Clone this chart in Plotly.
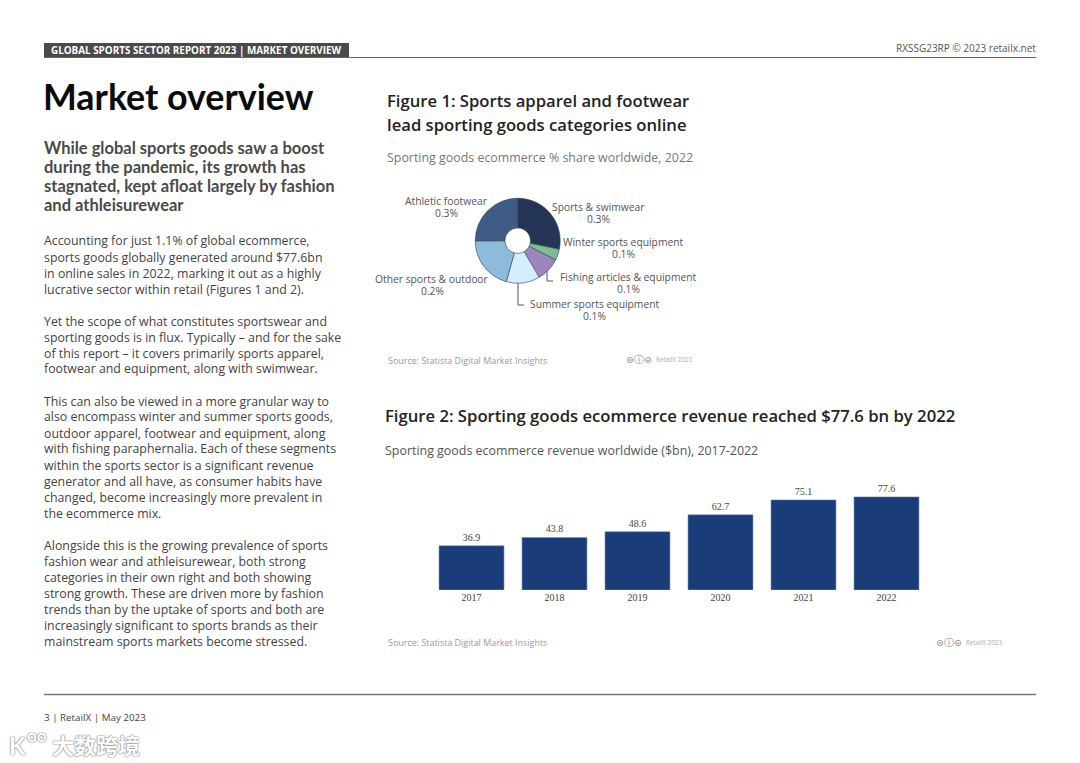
import plotly.graph_objects as go

W, H = 1080, 763

# ---- data ----
pie_categories = ["Sports & swimwear", "Winter sports equipment", "Fishing articles & equipment",
                  "Summer sports equipment", "Other sports & outdoor", "Athletic footwear"]
pie_values = [0.31, 0.046, 0.10, 0.14, 0.226, 0.275]
pie_value_labels = ["0.3%", "0.1%", "0.1%", "0.1%", "0.2%", "0.3%"]
pie_colors = ["#243556", "#7dbd8e", "#9c86bd", "#d6eefb", "#8dbbd9", "#3f5a85"]

years = ["2017", "2018", "2019", "2020", "2021", "2022"]
revenue = [36.9, 43.8, 48.6, 62.7, 75.1, 77.6]

heading_lines = ["While global sports goods saw a boost", "during the pandemic, its growth has",
                 "stagnated, kept afloat largely by fashion", "and athleisurewear"]
body_lines = [
    (241, "Accounting for just 1.1% of global ecommerce,"),
    (257, "sports goods globally generated around $77.6bn"),
    (273, "in online sales in 2022, marking it out as a highly"),
    (289, "lucrative sector within retail (Figures 1 and 2)."),
    (321, "Yet the scope of what constitutes sportswear and"),
    (337, "sporting goods is in flux. Typically – and for the sake"),
    (353, "of this report – it covers primarily sports apparel,"),
    (369, "footwear and equipment, along with swimwear."),
    (401, "This can also be viewed in a more granular way to"),
    (417, "also encompass winter and summer sports goods,"),
    (433, "outdoor apparel, footwear and equipment, along"),
    (449, "with fishing paraphernalia. Each of these segments"),
    (465, "within the sports sector is a significant revenue"),
    (481, "generator and all have, as consumer habits have"),
    (497, "changed, become increasingly more prevalent in"),
    (513, "the ecommerce mix."),
    (545, "Alongside this is the growing prevalence of sports"),
    (561, "fashion wear and athleisurewear, both strong"),
    (577, "categories in their own right and both showing"),
    (593, "strong growth. These are driven more by fashion"),
    (609, "trends than by the uptake of sports and both are"),
    (625, "increasingly significant to sports brands as their"),
    (641, "mainstream sports markets become stressed."),
]

pie_label_pos = [(598, 207), (623, 242), (628, 277), (594, 304), (432, 279), (446.5, 201)]

# ---- helpers ----
def px(x): return x / W
def py(y): return 1 - y / H

OS = "Open Sans"
annotations = []
def text(x, y, s, size=12, color="#444", family=OS, weight=400, anchor="left", shadow=None):
    f = dict(size=size, color=color, family=family, weight=weight)
    if shadow:
        f["shadow"] = shadow
    annotations.append(dict(x=px(x), y=py(y), xref="paper", yref="paper", text=s, showarrow=False,
                            xanchor=anchor, yanchor="middle", font=f, borderpad=0, borderwidth=0))

# header
text(51, 50, "GLOBAL SPORTS SECTOR REPORT 2023 | MARKET OVERVIEW", 9.9, "#ffffff", weight=700)
text(1036, 48, "RXSSG23RP © 2023 retailx.net", 10, "#555", anchor="right")
text(43, 96.5, "Market overview", 35.8, "#0a0a0a", "Lato", 700)
for i, s in enumerate(heading_lines):
    text(43.5, 148 + i * 19, s, 16.5, "#4a4a4a", "Lato", 700)
for y, s in body_lines:
    text(44, y, s, 12.33, "#444")

# figure 1
text(387, 100.5, "Figure 1: Sports apparel and footwear", 16.65, "#222", weight=600)
text(387, 124.5, "lead sporting goods categories online", 16.65, "#222", weight=600)
text(387, 157.5, "Sporting goods ecommerce % share worldwide, 2022", 12.42, "#777")
for (x, y), c, v in zip(pie_label_pos, pie_categories, pie_value_labels):
    text(x, y, c, 10.3, "#555", anchor="center")
    text(x, y + 12, v, 10.3, "#555", anchor="center")
text(388, 360.5, "Source: Statista Digital Market Insights", 8.95, "#999")
text(626, 359.5, "⊜ⓘ⊝", 9.5, "#888", "DejaVu Sans")
text(656, 359.5, "RetailX 2023", 6.3, "#aaa")

# figure 2
text(385, 415.5, "Figure 2: Sporting goods ecommerce revenue reached $77.6 bn by 2022", 16.67, "#222", weight=600)
text(385, 450.5, "Sporting goods ecommerce revenue worldwide ($bn), 2017-2022", 12.43, "#555")
text(388, 642.5, "Source: Statista Digital Market Insights", 8.95, "#999")
text(936, 642, "⊜ⓘ⊝", 9.5, "#888", "DejaVu Sans")
text(966, 642, "RetailX 2023", 6.3, "#aaa")

# footer and watermark
text(44, 717, "3 | RetailX | May 2023", 9.8, "#444")
wm = "0 0 2px #777, 0 0 1px #777"
text(9, 745, "K", 24, "#ffffff", "Lato", 700, shadow=wm)
text(27, 735, "oo", 17, "#ffffff", "Lato", 700, shadow=wm)
text(52, 744, "大数跨境", 22, "#ffffff", "Noto Sans CJK SC", 700, shadow=wm)

# page furniture
line = lambda x0, y0, x1, y1, c, w: dict(type="line", xref="paper", yref="paper", x0=px(x0), y0=py(y0),
                                         x1=px(x1), y1=py(y1), line=dict(color=c, width=w))
shapes = [
    line(44, 57.5, 1036, 57.5, "#666", 1.2),
    dict(type="rect", xref="paper", yref="paper", x0=px(44), x1=px(349), y0=py(58), y1=py(43),
         fillcolor="#4a4a4a", line=dict(width=0), layer="below"),
    line(44, 694.5, 1036, 694.5, "#777", 1.5),
    line(547, 271, 547, 281, "#555", 1), line(547, 281, 553, 281, "#555", 1),
    line(518, 283, 518, 305, "#555", 1), line(518, 305, 524, 305, "#555", 1),
]

fig = go.Figure()
cx, cy, r = 517.7, 240.7, 42.5
fig.add_trace(go.Pie(labels=pie_categories, values=pie_values, sort=False, direction="clockwise",
                     rotation=0, hole=0.3, textinfo="none", showlegend=False,
                     domain=dict(x=[px(cx - r), px(cx + r)], y=[py(cy + r), py(cy - r)]),
                     marker=dict(colors=pie_colors, line=dict(color="#2f4060", width=0.6))))
fig.add_trace(go.Bar(x=years, y=revenue, marker=dict(color="#1a3c78", line=dict(color="#7d93b8", width=0.6)),
                     text=[f"{v:.1f}" for v in revenue], textposition="outside", cliponaxis=False,
                     textfont=dict(family="Liberation Serif", size=10, color="#444"), showlegend=False))

fig.update_layout(
    width=W, height=H, margin=dict(l=0, r=0, t=0, b=0), autosize=False,
    paper_bgcolor="#ffffff", plot_bgcolor="#ffffff", bargap=0.217,
    annotations=annotations, shapes=shapes,
    xaxis=dict(domain=[px(430), px(928)], type="category", showgrid=False, zeroline=False, showline=False,
               ticks="", tickfont=dict(family="Liberation Serif", size=10, color="#444")),
    yaxis=dict(domain=[py(590), py(488)], range=[0, 85], visible=False),
)
fig.write_html("out.html", config=dict(displayModeBar=False),
               post_script="document.body.style.margin='0';document.body.style.overflow='hidden';")
